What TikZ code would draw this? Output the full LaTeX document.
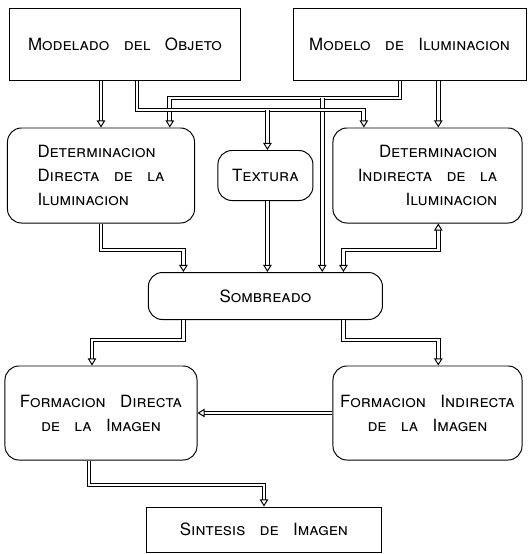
\documentclass[tikz,border=0pt]{standalone}
\usepackage{fontspec}
\setmainfont{TeX Gyre Heros}
\usepackage{tikz}
\usetikzlibrary{positioning, arrows.meta}

\tikzset{
	lbl/.style={font={\large\scshape\spaceskip=0.85em\relax}},
	plainbox/.style={draw, line width=0.7pt, lbl},
	roundbox/.style={draw, line width=0.7pt, rounded corners=0.35cm, lbl},
	conn/.style={double, double distance=2pt, line width=0.7pt, line join=miter,
		-{Triangle[open, length=5pt, width=6pt]}},
	connboth/.style={conn, {Triangle[open, length=5pt, width=6pt]}-{Triangle[open, length=5pt, width=6pt]}}
}

\begin{document}
\begin{tikzpicture}[x=0.025cm, y=-0.025cm]
	\useasboundingbox (0,0) rectangle (530,554);
	
	\node[plainbox, minimum width=5.75cm, minimum height=1.8cm] (obj) at (125,44) {Modelado del Objeto};
	\node[plainbox, minimum width=5.825cm, minimum height=1.8cm, right=1.3cm of obj] (ilum) {Modelo de Iluminacion};
	
	\node[roundbox, minimum width=4.675cm, minimum height=2.375cm, align=left] (dirdet) at (101,175.5)
		{Determinacion\\[3pt] Directa de la\\[3pt] Iluminacion};
	\node[roundbox, minimum width=2.375cm, minimum height=1.25cm, right=0.56cm of dirdet] (tex) {Textura};
	\node[roundbox, minimum width=4.725cm, minimum height=2.375cm, align=right] (indet) at (427.5,175.5)
		{Determinacion\\[3pt] Indirecta de la\\[3pt] Iluminacion};
	
	\node[roundbox, minimum width=5.85cm, minimum height=1.175cm, below=1.775cm of tex] (somb) {Sombreado};
	
	\node[roundbox, minimum width=4.8cm, minimum height=2.35cm, align=center] (formdir) at (101,413)
		{Formacion Directa\\[3pt] de la Imagen};
	\node[roundbox, minimum width=4.725cm, minimum height=2.35cm, align=center] (formind) at (427.5,413)
		{Formacion Indirecta\\[3pt] de la Imagen};
	
	\node[plainbox, minimum width=5.85cm, minimum height=1.125cm] (sint) at (264,529.5) {Sintesis de Imagen};
	
	% levels of the horizontal runs
	\coordinate (busA) at (0,98);
	\coordinate (busB) at (0,110);
	\coordinate (busC) at (0,250);
	\coordinate (busD) at (0,340);
	\coordinate (busE) at (0,485);
	
	% from the two models
	\draw[conn] (dirdet.north |- obj.south) -- (dirdet.north);
	\draw[conn] ([xshift=-0.24cm]ilum.south) -- ([xshift=-0.24cm]ilum.south |- busA) -| ([xshift=1.72cm]dirdet.north);
	\draw[conn] ([xshift=1.42cm]somb.north |- busA) -- ([xshift=1.42cm]somb.north);
	\draw[conn] ([xshift=0.3cm]obj.south) -- ([xshift=0.3cm]obj.south |- busB) -| ([xshift=-1.59cm]indet.north);
	\draw[conn] ([xshift=0.05cm]tex.north |- busB) -- ([xshift=0.05cm]tex.north);
	\draw[conn] ([xshift=0.27cm]indet.north |- ilum.south) -- ([xshift=0.27cm]indet.north);
	
	% into sombreado
	\draw[conn] (dirdet.south) -- (dirdet.south |- busC) -| ([xshift=-2.05cm]somb.north);
	\draw[conn] ([xshift=0.05cm]tex.south) -- ([xshift=0.05cm]somb.north);
	\draw[connboth] ([xshift=0.27cm]indet.south) -- ([xshift=0.27cm]indet.south |- busC) -| ([xshift=1.95cm]somb.north);
	
	% out of sombreado
	\draw[conn] ([xshift=-2.05cm]somb.south) -- ([xshift=-2.05cm]somb.south |- busD) -| ([xshift=-0.225cm]formdir.north);
	\draw[conn] ([xshift=1.95cm]somb.south) -- ([xshift=1.95cm]somb.south |- busD) -| ([xshift=0.27cm]formind.north);
	\draw[conn] (formind.west) -- (formdir.east);
	\draw[conn] ([xshift=-0.3cm]formdir.south) -- ([xshift=-0.3cm]formdir.south |- busE) -| (sint.north);
\end{tikzpicture}
\end{document}
